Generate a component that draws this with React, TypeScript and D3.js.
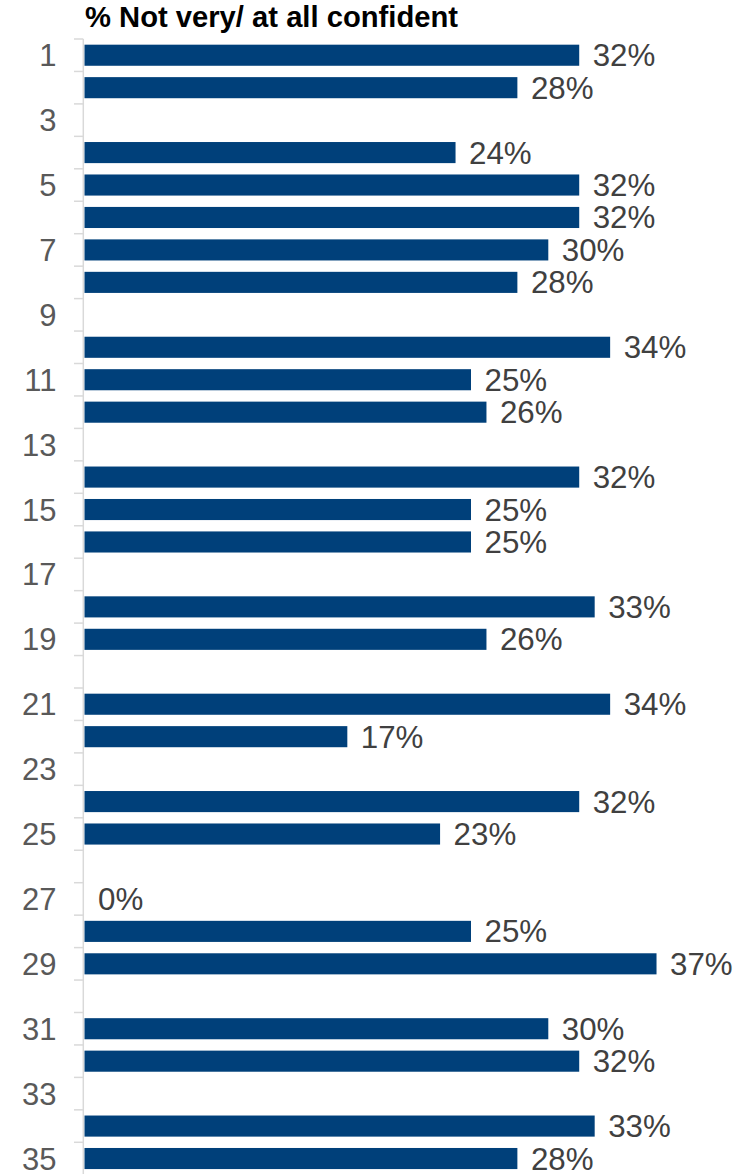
import React from "react";
import * as d3 from "d3";

const categories: string[] = Array.from({ length: 35 }, (_, i) => String(i + 1));
const values: (number | null)[] = [
  32, 28, null, 24, 32, 32, 30, 28, null, 34,
  25, 26, null, 32, 25, 25, null, 33, 26, null,
  34, 17, null, 32, 23, null, 0, 25, 37, null,
  30, 32, null, 33, 28,
];
const shownTickLabels: string[] = categories.filter((_, i) => i % 2 === 0);
const title = "% Not very/ at all confident";

const W = 743;
const H = 1174;
const FONT = "'Liberation Sans', Arial, Helvetica, sans-serif";

export default function App() {
  const top = 39;
  const band = 32.45;
  const x = d3.scaleLinear().domain([0, 37]).range([84.5, 84.5 + 37 * 15.46]);
  const y = d3
    .scaleBand<string>()
    .domain(categories)
    .range([top, top + band * categories.length])
    .paddingInner(0.35)
    .paddingOuter(0.175);
  const axisX = 83.3;
  const bounds = categories.map((_, i) => top + i * band);

  return (
    <svg
      width={W}
      height={H}
      style={{ position: "absolute", left: 0, top: 0, display: "block" }}
      fontFamily={FONT}
    >
      <rect width={W} height={H} fill="#ffffff" />
      <text x={85} y={27} fontSize={29.2} fontWeight="bold" fill="#000000">
        {title}
      </text>
      <line x1={axisX} x2={axisX} y1={top} y2={H} stroke="#d9d9d9" strokeWidth={1.5} />
      {bounds.map((b, i) => (
        <line key={"t" + i} x1={74} x2={axisX} y1={b} y2={b} stroke="#d9d9d9" strokeWidth={1.5} />
      ))}
      {categories.map((c) =>
        shownTickLabels.includes(c) ? (
          <text
            key={"c" + c}
            x={56.5}
            y={(y(c) as number) + y.bandwidth() / 2 + 11}
            fontSize={31}
            fill="#595959"
            textAnchor="end"
          >
            {c}
          </text>
        ) : null
      )}
      {categories.map((c, i) => {
        const v = values[i];
        if (v === null) return null;
        const yc = (y(c) as number) + y.bandwidth() / 2;
        return (
          <g key={"b" + c}>
            {v > 0 && (
              <rect
                x={x(0)}
                y={y(c)}
                width={x(v) - x(0)}
                height={y.bandwidth()}
                fill="#00407A"
              />
            )}
            <text x={x(v) + 13.5} y={yc + 11} fontSize={31.3} fill="#404040">
              {v + "%"}
            </text>
          </g>
        );
      })}
    </svg>
  );
}
